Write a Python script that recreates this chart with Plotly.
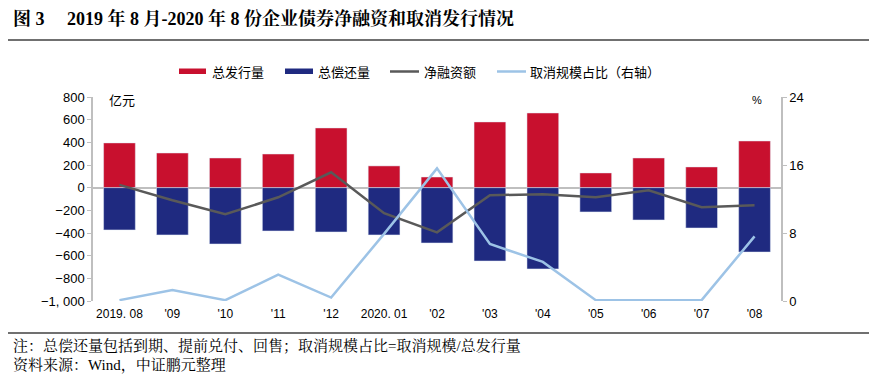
import plotly.graph_objects as go

months = ["2019. 08", "'09", "'10", "'11", "'12", "2020. 01", "'02", "'03", "'04", "'05", "'06", "'07", "'08"]
issuance = [395, 306, 262, 297, 527, 192, 94, 580, 659, 130, 262, 183, 412]
repayment = [-373, -417, -497, -382, -391, -417, -488, -647, -717, -214, -285, -356, -568]
net_financing = [25, -111, -235, -85, 136, -225, -394, -67, -58, -84, -23, -173, -156]
cancel_ratio = [0.1, 1.3, 0.1, 3.1, 0.4, 7.9, 15.6, 6.7, 4.6, 0.1, 0.1, 0.1, 7.6]

left_ticks = [800, 600, 400, 200, 0, -200, -400, -600, -800, -1000]
left_ticktext = ["800", "600", "400", "200", "0", "−200", "−400", "−600", "−800", "−1, 000"]
right_ticks = [0, 8, 16, 24]

FONT = "Liberation Sans, Noto Sans CJK SC, sans-serif"
CJK = "Noto Sans CJK SC, sans-serif"
SERIF = "Liberation Serif, Noto Serif CJK SC, Noto Sans CJK SC"

RED = "#C8102E"
BLUE = "#1F2A80"
GRAY = "#595959"
LBLUE = "#9DC3E6"

fig = go.Figure()
fig.add_trace(go.Bar(x=months, y=issuance, name="总发行量", marker_color=RED, width=0.6))
fig.add_trace(go.Bar(x=months, y=repayment, name="总偿还量", marker_color=BLUE, width=0.6))
fig.add_trace(go.Scatter(x=months, y=net_financing, name="净融资额", mode="lines",
                         line=dict(color=GRAY, width=2.5)))
fig.add_trace(go.Scatter(x=months, y=cancel_ratio, name="取消规模占比（右轴）", mode="lines",
                         line=dict(color=LBLUE, width=2.5), yaxis="y2"))

# page has an 8px body margin: figure is 869x369 so it fills the 877x377 window
fig.update_layout(
    width=869, height=369,
    margin=dict(l=85, r=96, t=89, b=76),
    paper_bgcolor="white", plot_bgcolor="white",
    barmode="relative",
    font=dict(family=FONT, size=12, color="#000000"),
    showlegend=False,
    xaxis=dict(type="category", showline=False, ticks="", showgrid=False, zeroline=False,
               tickfont=dict(family=FONT, size=12), ticklabelstandoff=4),
    yaxis=dict(range=[-1000, 800], tickvals=left_ticks, ticktext=left_ticktext,
               showgrid=False, zeroline=True, zerolinecolor="#BFBFBF", zerolinewidth=1.5,
               showline=True, linecolor="#BFBFBF", linewidth=1.5, ticks="outside",
               ticklen=4, tickcolor="#BFBFBF", tickfont=dict(family=FONT, size=13)),
    yaxis2=dict(range=[0, 24], tickvals=right_ticks, overlaying="y", side="right",
                showgrid=False, zeroline=False, showline=True, linecolor="#BFBFBF",
                linewidth=1.5, ticks="outside", ticklen=4, tickcolor="#BFBFBF",
                tickfont=dict(family=FONT, size=13)),
)

def px(X):
    return (X - 93) / 688

def py(Y):
    return (301 - Y) / 204

# manual legend (window pixel coordinates converted to paper)
legend_items = [
    ("rect", RED, 179, 206, 210, "总发行量"),
    ("rect", BLUE, 285, 313, 316, "总偿还量"),
    ("line", GRAY, 390, 419, 422, "净融资额"),
    ("line", LBLUE, 497, 526, 528, "取消规模占比（右轴）"),
]
for kind, color, x0, x1, tx, label in legend_items:
    if kind == "rect":
        fig.add_shape(type="rect", xref="paper", yref="paper", x0=px(x0), x1=px(x1),
                      y0=py(74), y1=py(68.5), fillcolor=color, line=dict(width=0))
    else:
        fig.add_shape(type="line", xref="paper", yref="paper", x0=px(x0), x1=px(x1),
                      y0=py(71.5), y1=py(71.5), line=dict(color=color, width=2.5))
    fig.add_annotation(text=label, xref="paper", yref="paper", x=px(tx), y=py(71.5),
                       xanchor="left", yanchor="middle", showarrow=False,
                       font=dict(family=CJK, size=13))

fig.add_annotation(text="亿元", xref="paper", yref="paper", x=px(107), y=py(100), xanchor="left",
                   yanchor="middle", showarrow=False, font=dict(family=CJK, size=13))
fig.add_annotation(text="%", xref="paper", yref="paper", x=px(757), y=py(100), xanchor="center",
                   yanchor="middle", showarrow=False, font=dict(family=FONT, size=11))

# title
fig.add_annotation(text="<b>图 3　 2019 年 8 月-2020 年 8 份企业债券净融资和取消发行情况</b>",
                   xref="paper", yref="paper", x=px(11), y=py(18), xanchor="left",
                   yanchor="middle", showarrow=False,
                   font=dict(family=SERIF, size=18))
fig.add_shape(type="line", xref="paper", yref="paper", x0=px(5), x1=px(870),
              y0=py(40), y1=py(40), line=dict(color="#404040", width=1.5))
fig.add_shape(type="line", xref="paper", yref="paper", x0=px(5), x1=px(870),
              y0=py(333), y1=py(333), line=dict(color="#404040", width=1.5))
fig.add_annotation(text="注：总偿还量包括到期、提前兑付、回售；取消规模占比=取消规模/总发行量",
                   xref="paper", yref="paper", x=px(11), y=py(345), xanchor="left",
                   yanchor="middle", showarrow=False,
                   font=dict(family=SERIF, size=15))
fig.add_annotation(text="资料来源：Wind，中证鹏元整理",
                   xref="paper", yref="paper", x=px(11), y=py(365), xanchor="left",
                   yanchor="middle", showarrow=False,
                   font=dict(family=SERIF, size=15))

fig.write_html("out.html")
